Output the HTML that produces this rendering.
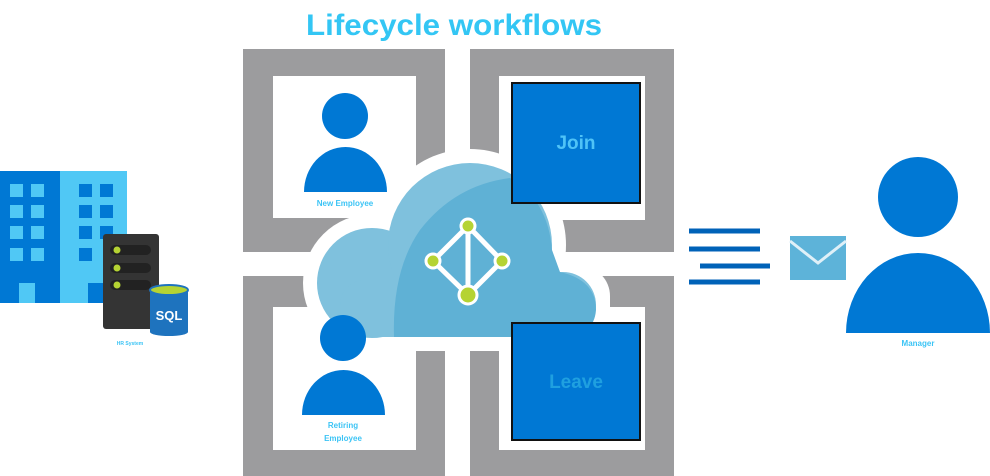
<!DOCTYPE html>
<html><head><meta charset="utf-8"><style>html,body{margin:0;padding:0;background:#fff;width:990px;height:476px;overflow:hidden}svg{display:block}</style></head>
<body>
<svg width="990" height="476" viewBox="0 0 990 476" xmlns="http://www.w3.org/2000/svg" font-family="Liberation Sans, sans-serif">
<text x="306" y="35" font-size="30" font-weight="bold" fill="#33c6f4" textLength="296" lengthAdjust="spacingAndGlyphs">Lifecycle workflows</text>
<g fill="#9c9c9e">
<rect x="243" y="49" width="202" height="203"/>
<rect x="470" y="49" width="204" height="203"/>
<rect x="243" y="276" width="202" height="200"/>
<rect x="470" y="276" width="204" height="200"/>
</g>
<g fill="#fff">
<rect x="273" y="76" width="143" height="142"/>
<rect x="499" y="76" width="146" height="144"/>
<rect x="273" y="307" width="143" height="143"/>
<rect x="499" y="307" width="146" height="143"/>
<circle cx="372" cy="283" r="69"/>
<circle cx="470" cy="245" r="96"/>
<circle cx="563" cy="305" r="47"/>
<rect x="320" y="266" width="290" height="85" rx="30"/>
</g>
<g fill="#7fc1dd">
<circle cx="372" cy="283" r="55"/>
<circle cx="470" cy="245" r="82"/>
<circle cx="563" cy="305" r="33"/>
<rect x="340" y="280" width="250" height="57" rx="25"/>
</g>
<path d="M394 337 Q392 270 420 230 Q455 185 510 178 Q548 200 552 250 L560 272 Q596 280 596 310 Q594 337 560 337 Z" fill="#5fb1d5"/>
<rect x="512" y="83" width="128" height="120" fill="#0078d4" stroke="#111" stroke-width="2"/>
<text x="576" y="149" font-size="19" font-weight="bold" fill="#4fc3f7" text-anchor="middle">Join</text>
<rect x="512" y="323" width="128" height="117" fill="#0078d4" stroke="#111" stroke-width="2"/>
<text x="576" y="388" font-size="19" font-weight="bold" fill="#1fa0e0" text-anchor="middle">Leave</text>
<path d="M468 226 L433 261 L468 295 L502 261 Z" fill="none" stroke="#fff" stroke-width="5" stroke-linejoin="round"/>
<line x1="468" y1="226" x2="468" y2="295" stroke="#fff" stroke-width="5"/>
<g fill="#b5d333" stroke="#fff" stroke-width="3">
<circle cx="468" cy="226" r="7"/><circle cx="433" cy="261" r="7"/><circle cx="502" cy="261" r="7"/><circle cx="468" cy="295" r="9"/>
</g>
<g fill="#0078d4">
<circle cx="345" cy="116" r="23"/>
<path d="M304 192 A41.5 45 0 0 1 387 192 Z"/>
<circle cx="343" cy="338" r="23"/>
<path d="M302 415 A41.5 45 0 0 1 385 415 Z"/>
<circle cx="918" cy="197" r="40"/>
<path d="M846 333 A72 80 0 0 1 990 333 Z"/>
</g>
<g font-size="8" font-weight="bold" fill="#3cc4f5" text-anchor="middle">
<text x="345" y="206">New Employee</text>
<text x="343" y="428">Retiring</text>
<text x="343" y="441">Employee</text>
<text x="918" y="346">Manager</text>
<text x="130" y="345" font-size="5">HR System</text>
</g>
<g stroke="#0062b8" stroke-width="5">
<line x1="689" y1="231" x2="760" y2="231"/>
<line x1="689" y1="249" x2="760" y2="249"/>
<line x1="700" y1="266" x2="770" y2="266"/>
<line x1="689" y1="282" x2="760" y2="282"/>
</g>
<rect x="790" y="236" width="56" height="44" fill="#5db3d9"/>
<path d="M790 241 L818 263 L846 241" fill="none" stroke="#dff0f8" stroke-width="3"/>
<rect x="0" y="171" width="60" height="132" fill="#0078d4"/>
<rect x="60" y="171" width="67" height="132" fill="#50c8f5"/>
<g fill="#50c8f5">
<rect x="10" y="184" width="13" height="13"/><rect x="31" y="184" width="13" height="13"/>
<rect x="10" y="205" width="13" height="13"/><rect x="31" y="205" width="13" height="13"/>
<rect x="10" y="226" width="13" height="13"/><rect x="31" y="226" width="13" height="13"/>
<rect x="10" y="248" width="13" height="13"/><rect x="31" y="248" width="13" height="13"/>
<rect x="19" y="283" width="16" height="20"/>
</g>
<g fill="#0078d4">
<rect x="79" y="184" width="13" height="13"/><rect x="100" y="184" width="13" height="13"/>
<rect x="79" y="205" width="13" height="13"/><rect x="100" y="205" width="13" height="13"/>
<rect x="79" y="226" width="13" height="13"/><rect x="100" y="226" width="13" height="13"/>
<rect x="79" y="248" width="13" height="13"/>
<rect x="88" y="283" width="16" height="20"/>
</g>
<rect x="103" y="234" width="56" height="95" rx="3" fill="#343434"/>
<g fill="#222"><rect x="110" y="245" width="41" height="10" rx="5"/><rect x="110" y="263" width="41" height="10" rx="5"/><rect x="110" y="280" width="41" height="10" rx="5"/></g>
<g fill="#b5d333"><circle cx="117" cy="250" r="3.5"/><circle cx="117" cy="268" r="3.5"/><circle cx="117" cy="285" r="3.5"/></g>
<rect x="150" y="290" width="38" height="42" fill="#1e73be"/>
<ellipse cx="169" cy="332" rx="19" ry="4" fill="#1e73be"/>
<ellipse cx="169" cy="290" rx="19" ry="5" fill="#b5d333" stroke="#1e73be" stroke-width="2"/>
<text x="169" y="320" font-size="13" font-weight="bold" fill="#fff" text-anchor="middle">SQL</text>
</svg>
</body></html>
